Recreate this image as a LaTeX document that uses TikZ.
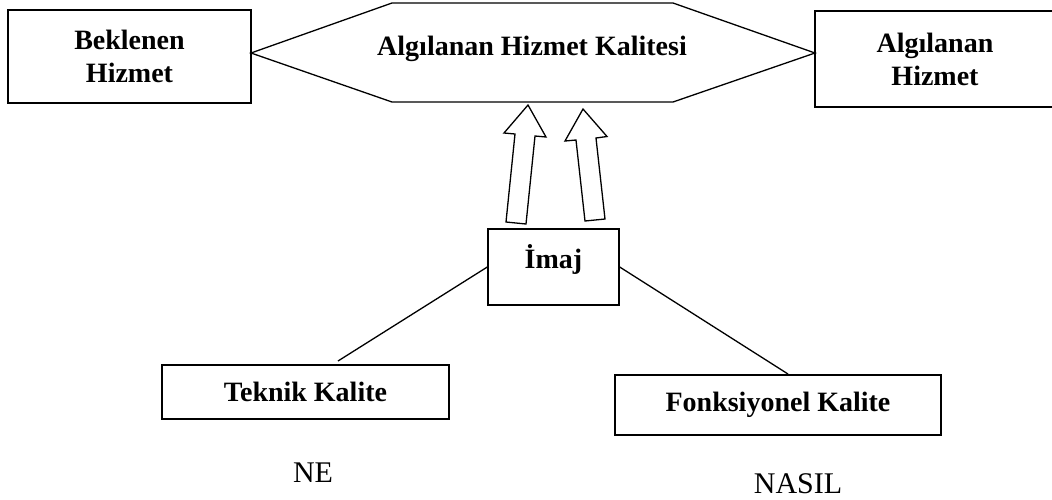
\documentclass[tikz,border=0pt]{standalone}
\usepackage{fontspec}
\setmainfont{Liberation Serif}

\tikzset{
  kutu/.style={draw,line width=1.4pt,inner sep=0pt,align=center,
    font=\fontsize{28}{33}\selectfont\bfseries},
  yazi/.style={font=\fontsize{30}{34}\selectfont,anchor=base},
}

\begin{document}
\begin{tikzpicture}[x=1pt,y=-1pt,line width=1.3pt]
\useasboundingbox (0,0) rectangle (1052,499);
% ust sira
\node[kutu,minimum width=243pt,minimum height=93pt] (beklenen) at (129.5,56.5) {Beklenen\\Hizmet};
\node[kutu,minimum width=240pt,minimum height=96pt] (algilanan) at (935,59) {Algılanan\\Hizmet};
\draw (251,53)--(392,3)--(673,3)--(815,53)--(673,102)--(392,102)--cycle;
\node[font=\fontsize{28}{33}\selectfont\bfseries,anchor=base] (kalite) at (532,55) {Algılanan Hizmet Kalitesi};
% imaj ve oklar
\node[kutu,minimum width=131pt,minimum height=76pt,text height=12pt,text depth=10pt] (imaj) at (553.5,267) {İmaj};
\draw (506,222)--(515,134)--(504,133)--(528,105)--(546,137)--(535,136)--(526,224)--cycle;
\draw (585,221)--(576,140)--(565,141)--(583,109)--(607,136.5)--(596,138)--(605,219)--cycle;
% alt sira
\node[kutu,minimum width=287pt,minimum height=54pt] (teknik) at (305.5,392) {Teknik Kalite};
\node[kutu,minimum width=326pt,minimum height=60pt] (fonk) at (778,405) {Fonksiyonel Kalite};
\coordinate (t1) at (338,361);
\coordinate (f1) at (788,374);
\draw (imaj.west)--(t1);
\draw (imaj.east)--(f1);
\node[yazi] (ne) at (313,482) {NE};
\node[yazi] (nasil) at (798,493) {NASIL};
\end{tikzpicture}
\end{document}
